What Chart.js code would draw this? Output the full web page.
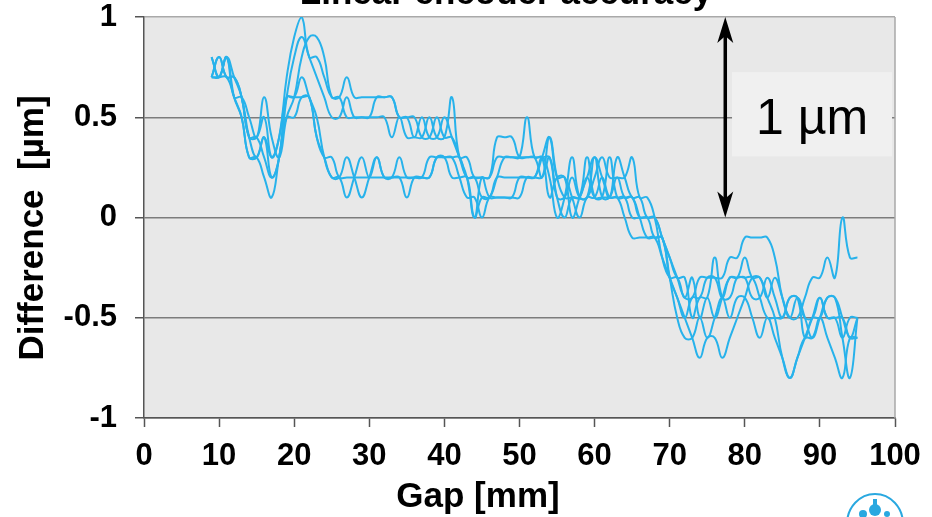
<!DOCTYPE html>
<html>
<head>
<meta charset="utf-8">
<script src="https://cdn.jsdelivr.net/npm/chart.js@4.4.1/dist/chart.umd.min.js"></script>
<style>
  html, body { margin: 0; padding: 0; background: #ffffff; overflow: hidden; }
  #wrap { width: 932px; height: 517px; position: relative; }
</style>
</head>
<body>
<div id="wrap"><canvas id="c" width="932" height="517"></canvas></div>
<script>
// Gap positions of the encoder readings [mm]
const gapMm = [9,
  10,11,12,13,14,15,16,17,18,19,
  20,21,22,23,24,25,26,27,28,29,
  30,31,32,33,34,35,36,37,38,39,
  40,41,42,43,44,45,46,47,48,49,
  50,51,52,53,54,55,56,57,58,59,
  60,61,62,63,64,65,66,67,68,69,
  70,71,72,73,74,75,76,77,78,79,
  80,81,82,83,84,85,86,87,88,89,
  90,91,92,93,94,95];

// Difference between encoder and reference, one array per measurement run [µm]
const run1 = [0.8,
  0.7,0.8,0.7,0.6,0.4,0.4,0.5,0.3,0.4,0.7,
  0.9,1.0,0.8,0.8,0.7,0.6,0.6,0.7,0.6,0.6,
  0.6,0.6,0.6,0.6,0.5,0.5,0.5,0.4,0.4,0.5,
  0.4,0.4,0.3,0.2,0.2,0.2,0.2,0.3,0.3,0.3,
  0.3,0.3,0.3,0.2,0.4,0.2,0.1,0.1,0.1,0.2,
  0.1,0.1,0.1,0.1,0.1,0.0,0.0,0.0,0.0,-0.1,
  -0.2,-0.3,-0.4,-0.4,-0.3,-0.3,-0.3,-0.3,-0.2,-0.2,
  -0.1,-0.1,-0.1,-0.1,-0.2,-0.4,-0.5,-0.5,-0.4,-0.3,
  -0.3,-0.2,-0.3,0.0,-0.2,-0.2];
const run2 = [0.7,
  0.8,0.7,0.7,0.6,0.4,0.3,0.4,0.2,0.3,0.6,
  0.8,0.9,0.8,0.7,0.6,0.5,0.5,0.6,0.5,0.5,
  0.5,0.5,0.5,0.4,0.5,0.4,0.4,0.4,0.5,0.4,
  0.4,0.6,0.3,0.3,0.2,0.2,0.2,0.4,0.4,0.4,
  0.3,0.3,0.3,0.3,0.3,0.1,0.1,0.2,0.1,0.1,
  0.3,0.1,0.1,0.2,0.1,0.1,0.0,0.0,-0.1,-0.1,
  -0.3,-0.4,-0.5,-0.4,-0.4,-0.3,-0.3,-0.4,-0.3,-0.3,
  -0.3,-0.4,-0.4,-0.3,-0.4,-0.5,-0.4,-0.4,-0.5,-0.5,
  -0.4,-0.5,-0.5,-0.6,-0.5,-0.5];
const run3 = [0.8,
  0.7,0.8,0.6,0.6,0.5,0.4,0.6,0.4,0.3,0.5,
  0.6,0.8,0.9,0.9,0.8,0.6,0.6,0.5,0.5,0.5,
  0.5,0.6,0.6,0.6,0.5,0.5,0.4,0.5,0.4,0.4,
  0.5,0.4,0.3,0.2,0.0,0.2,0.1,0.1,0.1,0.1,
  0.2,0.2,0.2,0.3,0.2,0.0,0.1,0.3,0.1,0.1,
  0.2,0.3,0.2,0.2,0.2,0.3,0.1,0.1,0.0,-0.2,
  -0.3,-0.3,-0.4,-0.3,-0.5,-0.4,-0.5,-0.4,-0.3,-0.3,
  -0.2,-0.3,-0.3,-0.4,-0.3,-0.4,-0.5,-0.4,-0.5,-0.6,
  -0.5,-0.4,-0.4,-0.5,-0.6,-0.6];
const run4 = [0.7,
  0.7,0.7,0.6,0.5,0.3,0.3,0.4,0.3,0.4,0.6,
  0.6,0.7,0.6,0.5,0.3,0.2,0.2,0.3,0.2,0.1,
  0.2,0.3,0.2,0.2,0.3,0.2,0.2,0.2,0.3,0.3,
  0.3,0.3,0.3,0.2,0.2,0.1,0.1,0.2,0.2,0.2,
  0.2,0.2,0.2,0.2,0.3,0.1,0.0,0.1,0.1,0.3,
  0.1,0.1,0.3,0.1,0.1,0.1,0.0,-0.1,-0.1,-0.1,
  -0.3,-0.5,-0.6,-0.6,-0.5,-0.6,-0.5,-0.4,-0.5,-0.4,
  -0.4,-0.5,-0.6,-0.5,-0.6,-0.7,-0.8,-0.7,-0.6,-0.6,
  -0.5,-0.6,-0.7,-0.8,-0.6,-0.6];
const run5 = [0.7,
  0.8,0.7,0.7,0.6,0.4,0.4,0.3,0.2,0.3,0.6,
  0.6,0.6,0.6,0.4,0.3,0.3,0.2,0.2,0.2,0.2,
  0.2,0.2,0.2,0.2,0.2,0.1,0.2,0.2,0.2,0.3,
  0.3,0.3,0.2,0.1,0.1,0.0,0.1,0.1,0.1,0.1,
  0.1,0.2,0.2,0.3,0.4,0.2,0.2,0.1,0.0,0.1,
  0.1,0.2,0.1,0.1,0.0,-0.1,-0.1,-0.1,-0.1,-0.2,
  -0.3,-0.4,-0.5,-0.6,-0.7,-0.6,-0.6,-0.7,-0.6,-0.5,
  -0.4,-0.3,-0.3,-0.4,-0.5,-0.7,-0.8,-0.7,-0.6,-0.5,
  -0.4,-0.5,-0.5,-0.5,-0.6,-0.5];
const run6 = [0.7,
  0.7,0.8,0.6,0.5,0.3,0.3,0.2,0.1,0.3,0.5,
  0.5,0.6,0.6,0.4,0.3,0.2,0.2,0.1,0.2,0.3,
  0.2,0.3,0.2,0.2,0.2,0.2,0.2,0.2,0.2,0.3,
  0.3,0.2,0.2,0.2,0.0,0.1,0.1,0.2,0.3,0.3,
  0.3,0.5,0.3,0.3,0.1,0.2,0.2,0.0,0.1,0.2,
  0.3,0.2,0.1,0.3,0.2,0.1,0.1,0.0,0.0,-0.1,
  -0.2,-0.3,-0.3,-0.5,-0.4,-0.4,-0.2,-0.4,-0.4,-0.3,
  -0.3,-0.3,-0.4,-0.5,-0.5,-0.5,-0.4,-0.4,-0.6,-0.5,
  -0.5,-0.4,-0.4,-0.6,-0.8,-0.5];

const runs = [run1, run2, run3, run4, run5, run6];

// Axis ticks
const xTickValues = [0, 10, 20, 30, 40, 50, 60, 70, 80, 90, 100];
const yTickValues = [-1, -0.5, 0, 0.5, 1];

// Span marker: a 1 µm arrow from 0 to 1 at this gap position
const spanGap = 77.4;
const spanFrom = 0;
const spanTo = 1;
const spanLabel = '1 µm';

const FONT = '"Liberation Sans", Arial, Helvetica, sans-serif';
const LINE = '#27b2eb';

const decor = {
  id: 'decor',
  beforeDraw(chart) {
    const { ctx, chartArea: a } = chart;
    ctx.save();
    ctx.fillStyle = '#e8e8e8';
    ctx.fillRect(a.left, a.top, a.right - a.left, a.bottom - a.top);
    ctx.restore();
  },
  afterDraw(chart) {
    const { ctx, chartArea: a, scales } = chart;
    const xs = scales.x, ys = scales.y;
    ctx.save();

    // right frame edge
    ctx.strokeStyle = '#a9a9a9';
    ctx.lineWidth = 1.5;
    ctx.beginPath();
    ctx.moveTo(a.right, a.top);
    ctx.lineTo(a.right, a.bottom);
    ctx.stroke();

    // label box for the span marker
    const bx0 = xs.getPixelForValue(78.3), bx1 = xs.getPixelForValue(99.6);
    const by0 = ys.getPixelForValue(0.725), by1 = ys.getPixelForValue(0.305);
    ctx.fillStyle = '#f0f0f0';
    ctx.fillRect(bx0, by0, bx1 - bx0, by1 - by0);
    ctx.fillStyle = '#000';
    ctx.font = '50px ' + FONT;
    ctx.textAlign = 'center';
    ctx.textBaseline = 'alphabetic';
    ctx.fillText(spanLabel, (bx0 + bx1) / 2, by0 + 62);

    // double-headed span arrow
    const ax = xs.getPixelForValue(spanGap);
    const ay0 = ys.getPixelForValue(spanTo), ay1 = ys.getPixelForValue(spanFrom);
    ctx.strokeStyle = '#000';
    ctx.lineWidth = 3.5;
    ctx.beginPath();
    ctx.moveTo(ax, ay0 + 12);
    ctx.lineTo(ax, ay1 - 12);
    ctx.stroke();
    ctx.fillStyle = '#000';
    const head = (tipY, dir) => {
      ctx.beginPath();
      ctx.moveTo(ax, tipY);
      ctx.lineTo(ax + 8, tipY + dir * 26);
      ctx.lineTo(ax, tipY + dir * 19);
      ctx.lineTo(ax - 8, tipY + dir * 26);
      ctx.closePath();
      ctx.fill();
    };
    head(ay0, 1);
    head(ay1, -1);

    // chart title
    ctx.fillStyle = '#000';
    ctx.font = 'bold 35px ' + FONT;
    ctx.textAlign = 'center';
    ctx.textBaseline = 'alphabetic';
    ctx.fillText('Linear encoder accuracy', 506, 4);

    // axis titles
    ctx.font = 'bold 35px ' + FONT;
    ctx.textBaseline = 'middle';
    ctx.fillText('Gap [mm]', 478, 497);
    ctx.save();
    ctx.translate(33, 228);
    ctx.rotate(-Math.PI / 2);
    ctx.fillText('Difference  [µm]', 0, 0);
    ctx.restore();

    // emblem in the lower right corner
    ctx.strokeStyle = '#29a8e0';
    ctx.lineWidth = 2;
    ctx.beginPath();
    ctx.ellipse(875, 524, 28, 30, 0, Math.PI, 2 * Math.PI);
    ctx.stroke();
    ctx.fillStyle = '#29a8e0';
    ctx.beginPath(); ctx.arc(875, 510, 6, 0, 2 * Math.PI); ctx.fill();
    ctx.beginPath(); ctx.arc(863, 514, 4, 0, 2 * Math.PI); ctx.fill();
    ctx.beginPath(); ctx.arc(887, 514, 3, 0, 2 * Math.PI); ctx.fill();
    ctx.fillRect(873, 499, 4, 6);

    ctx.restore();
  }
};

const tickFont = { family: FONT, size: 31, weight: 'bold' };

new Chart(document.getElementById('c'), {
  type: 'line',
  data: {
    datasets: runs.map((r, k) => ({
      label: 'Run ' + (k + 1),
      data: gapMm.map((g, i) => ({ x: g, y: r[i] })),
      borderColor: LINE,
      borderWidth: 2,
      pointRadius: 0,
      tension: 0.45,
      fill: false
    }))
  },
  options: {
    responsive: false,
    animation: false,
    events: [],
    layout: { padding: 0 },
    plugins: {
      legend: { display: false },
      tooltip: { enabled: false },
      title: { display: false }
    },
    scales: {
      x: {
        type: 'linear',
        min: 0,
        max: 100,
        afterFit(s) { s.height = 99; s.paddingLeft = 0; s.paddingRight = 37; },
        afterBuildTicks(s) { s.ticks = xTickValues.map(v => ({ value: v })); },
        ticks: {
          color: '#000',
          font: tickFont,
          padding: 11,
          maxRotation: 0,
          autoSkip: false,
          callback: v => String(v)
        },
        grid: { drawOnChartArea: false, drawTicks: true, tickLength: 9, tickColor: '#555', tickWidth: 1.5 },
        border: { display: true, color: '#555', width: 1.5 }
      },
      y: {
        min: -1,
        max: 1,
        afterFit(s) { s.width = 144; s.paddingTop = 17; s.paddingBottom = 0; },
        afterBuildTicks(s) { s.ticks = yTickValues.map(v => ({ value: v })); },
        ticks: {
          color: '#000',
          font: tickFont,
          padding: 18,
          callback: v => String(v)
        },
        grid: {
          color: c => (c.tick && c.tick.value === 1 ? '#a9a9a9' : '#7c7c7c'),
          lineWidth: 1.5,
          drawTicks: true,
          tickLength: 9,
          tickColor: '#555',
          tickWidth: 1.5
        },
        border: { display: true, color: '#555', width: 1.5 }
      }
    }
  },
  plugins: [decor]
});
</script>
</body>
</html>
